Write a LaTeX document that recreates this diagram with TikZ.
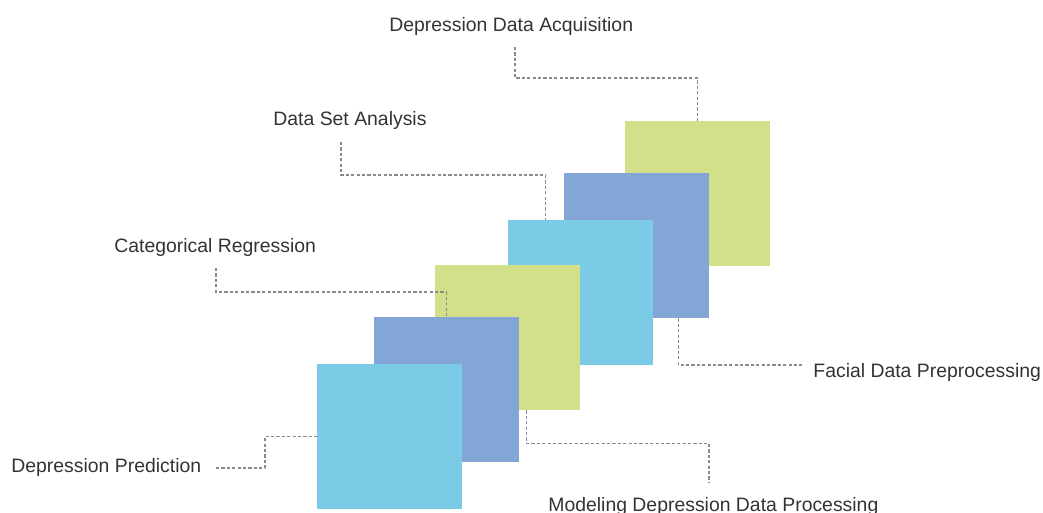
\documentclass[tikz,border=0pt]{standalone}
\usepackage{fontspec}
\setmainfont{Liberation Sans}
\usetikzlibrary{calc}

\definecolor{tilegreen}{HTML}{D2E189}
\definecolor{tileblue}{HTML}{84A6D6}
\definecolor{tilecyan}{HTML}{7BCBE6}
\definecolor{leadgray}{HTML}{8A8A8A}
\definecolor{txtgray}{HTML}{333333}

\begin{document}
\begin{tikzpicture}[
  x=0.5pt, y=-0.5pt,
  tile/.style={rectangle, draw=none, minimum size=72.5pt, inner sep=0pt},
  lbl/.style={anchor=base west, inner sep=0pt, text=txtgray,
             font=\fontsize{9.7}{12}\selectfont},
  lead/.style={draw=leadgray, line width=0.65pt, dash pattern=on 1.6pt off 1.1pt},
]
\useasboundingbox (0,0) rectangle (1043,513);

% staircase of tiles, back to front
\node[tile, fill=tilegreen] (sq1) at (697.5,193.5) {};
\node[tile, fill=tileblue]  (sq2) at (636.5,245.5) {};
\node[tile, fill=tilecyan]  (sq3) at (580.5,292.5) {};
\node[tile, fill=tilegreen] (sq4) at (507.5,337.5) {};
\node[tile, fill=tileblue]  (sq5) at (446.5,389.5) {};
\node[tile, fill=tilecyan]  (sq6) at (389.5,436.5) {};

\node[lbl] (acq) at (389,32)  {Depression Data Acquisition};
\node[lbl] (dsa) at (273,126) {Data Set Analysis};
\node[lbl] (cat) at (114,252) {Categorical Regression};
\node[lbl] (fac) at (813,377) {Facial Data Preprocessing};
\node[lbl] (mod) at (548,511) {Modeling Depression Data Processing};
\node[lbl] (pre) at (11,472)  {Depression Prediction};

\coordinate (acq-end) at (515,47);
\coordinate (dsa-end) at (341,142);
\coordinate (cat-end) at (216,268);
\coordinate (fac-end) at (802,365);
\coordinate (mod-end) at (709,483);
\coordinate (pre-end) at (216,468);

\draw[lead] (acq-end) -- ++(0,31) -| (sq1.north);
\draw[lead] (dsa-end) -- ++(0,33) -| ($(sq3.north west)+(38,0)$);
\draw[lead] (cat-end) -- ++(0,24) -| (sq5.north);
\draw[lead] ($(sq2.south west)+(115,0)$) |- (fac-end);
\draw[lead] ($(sq4.south west)+(92,0)$) -- ++(0,33) -| (mod-end);
\draw[lead] (pre-end) -- ++(49,0) |- (sq6.west);
\end{tikzpicture}
\end{document}
